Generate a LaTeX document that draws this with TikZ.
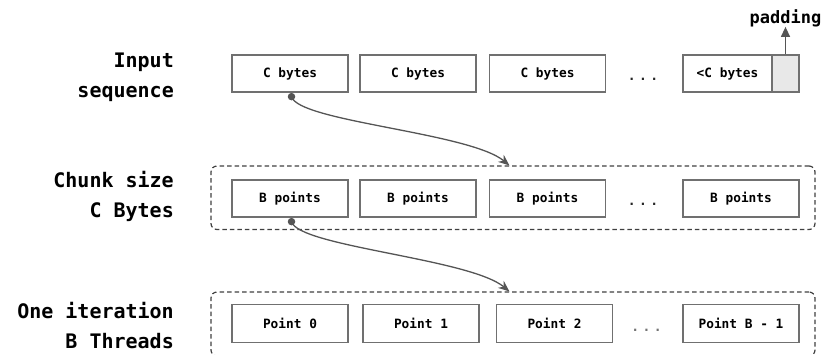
\documentclass[tikz,border=0pt]{standalone}
\usepackage{fontspec}
\newfontfamily\monofam{DejaVu Sans Mono}
\usetikzlibrary{arrows.meta,calc}
\definecolor{boxline}{HTML}{707070}
\definecolor{arrowgray}{HTML}{555555}
\definecolor{padfill}{HTML}{E8E8E8}
\begin{document}
\begin{tikzpicture}[x=1pt,y=-1pt,
  cell/.style={draw=boxline, line width=1.3pt, minimum width=116pt, minimum height=37pt,
    inner sep=0pt, font=\monofam\fontsize{12.8}{14}\selectfont\bfseries, text=black},
  frame/.style={draw=black!75, line width=1.2pt, dash pattern=on 4.5pt off 3pt, rounded corners=6pt,
    inner sep=0pt},
  rowlabel/.style={anchor=east, align=right, inner sep=0pt,
    font=\monofam\fontsize{20}{30}\selectfont\bfseries, text=black},
  dotsnode/.style={inner sep=0pt, font=\monofam\fontsize{13}{14}\selectfont\bfseries, text=black!85},
  flow/.style={draw=arrowgray, line width=1.3pt, -{Stealth[length=11pt,width=9pt]}},
  startdot/.style={circle, fill=arrowgray, inner sep=0pt, minimum size=7.5pt}
]
\useasboundingbox (0,0) rectangle (823,354);

% row labels
\node[rowlabel] (l1) at (174,77) {Input\\sequence};
\node[rowlabel] (l2) at (174,196) {Chunk size\\C Bytes};
\node[rowlabel] (l3) at (174,326) {One iteration\\B Threads};

% frames
\node[frame, minimum width=604pt, minimum height=63.5pt] (fr2) at (513,197.75) {};
\node[frame, minimum width=604pt, minimum height=64pt] (fr3) at (513,324) {};

% row 1
\node[cell] (a1) at (290,73.5) {C bytes};
\node[cell] (a2) at (418,73.5) {C bytes};
\node[cell] (a3) at (547.5,73.5) {C bytes};
\node[dotsnode] (ad) at (643,79.5) {.\hspace{3.4pt}.\hspace{3.4pt}.};
\node[cell, minimum width=89pt] (a4) at (727.5,73.5) {<C bytes};
\node[cell, minimum width=27pt, fill=padfill] (pad) at (785.5,73.5) {};
\node[inner sep=0pt, font=\monofam\fontsize{17}{20}\selectfont\bfseries] (padlab) at (785.5,18) {padding};
\draw[draw=arrowgray, line width=1.3pt, -{Triangle[length=10pt,width=9pt]}] (pad.north) -- (padlab.south);

% row 2
\node[cell] (b1) at (290,198.5) {B points};
\node[cell] (b2) at (418,198.5) {B points};
\node[cell] (b3) at (547.5,198.5) {B points};
\node[dotsnode] (bd) at (643,204.3) {.\hspace{3.4pt}.\hspace{3.4pt}.};
\node[cell] (b4) at (741,198.5) {B points};

% row 3
\node[cell, minimum height=38pt] (c1) at (290,323.5) {Point 0};
\node[cell, minimum height=38pt] (c2) at (421,323.5) {Point 1};
\node[cell, minimum height=38pt] (c3) at (554.5,323.5) {Point 2};
\node[dotsnode, text=black!55] (cd) at (646.5,330) {.\hspace{3.4pt}.\hspace{3.4pt}.};
\node[cell, minimum height=38pt] (c4) at (741,323.5) {Point B - 1};

% connectors
\coordinate (s1) at ($(a1.south)+(1.5,4)$);
\coordinate (e1) at ($(fr2.north west)+(299,0)$);
\draw[flow] (s1) .. controls +(7,25) and +(-40,-33) .. (e1);
\node[startdot] (d1) at (s1) {};

\coordinate (s2) at ($(b1.south)+(1.5,4)$);
\coordinate (e2) at ($(fr3.north west)+(299,0)$);
\draw[flow] (s2) .. controls +(7,25) and +(-40,-33) .. (e2);
\node[startdot] (d2) at (s2) {};
\end{tikzpicture}
\end{document}
